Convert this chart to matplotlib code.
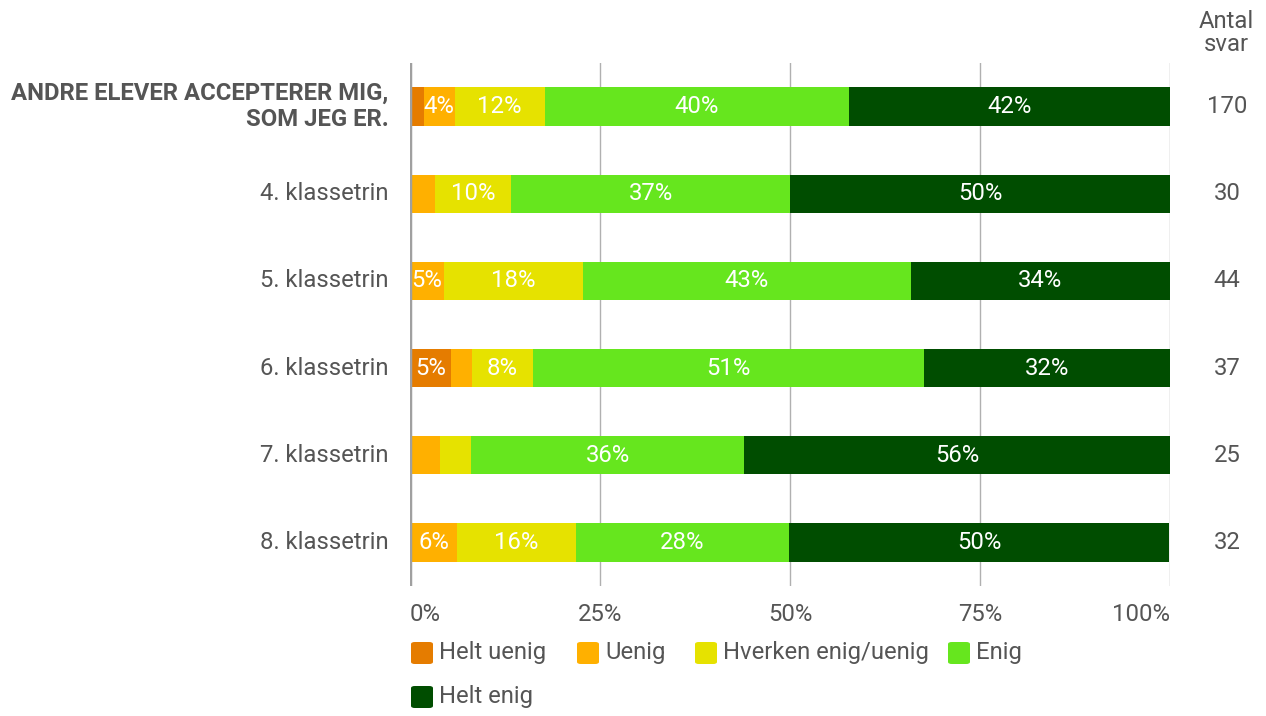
import matplotlib
matplotlib.use("Agg")
import math
import matplotlib.pyplot as plt
from matplotlib.patches import FancyBboxPatch

plt.rcParams['font.family'] = ['Roboto', 'DejaVu Sans']

categories = ["ANDRE ELEVER ACCEPTERER MIG,\nSOM JEG ER.", "4. klassetrin", "5. klassetrin",
              "6. klassetrin", "7. klassetrin", "8. klassetrin"]
series_names = ["Helt uenig", "Uenig", "Hverken enig/uenig", "Enig", "Helt enig"]
helt_uenig = [1.8, 0.0, 0.0, 5.4, 0.0, 0.0]
uenig = [4.1, 3.3, 4.5, 2.7, 4.0, 6.2]
hverken = [11.8, 10.0, 18.2, 8.1, 4.0, 15.6]
enig = [40.0, 36.7, 43.2, 51.4, 36.0, 28.1]
helt_enig = [42.4, 50.0, 34.1, 32.4, 56.0, 50.0]
antal_svar = [170, 30, 44, 37, 25, 32]
xticks = [0, 25, 50, 75, 100]
xtick_labels = ["0%", "25%", "50%", "75%", "100%"]

colors = ["#e57c00", "#ffb000", "#e6e200", "#66e61e", "#004d00"]
text_gray = "#555555"
FS = 17.2

W, H = 1266, 716
fig = plt.figure(figsize=(W / 100, H / 100), dpi=100)
ax = fig.add_axes([410 / W, (H - 586) / H, 760 / W, 523 / H])

series = [helt_uenig, uenig, hverken, enig, helt_enig]
ys = list(range(len(categories)))
left = [0.0] * len(categories)
for vals, col in zip(series, colors):
    ax.barh(ys, vals, left=left, height=0.44, color=col, zorder=3)
    for i, v in enumerate(vals):
        if v > 4.05:
            ax.text(left[i] + v / 2, ys[i], f"{int(math.floor(v + 0.5)):d}%", ha="center",
                    va="center", color="white", fontsize=FS, zorder=4)
    left = [l + v for l, v in zip(left, vals)]

ax.set_xlim(0, 100)
ax.set_ylim(len(categories) - 0.5, -0.5)
for x in xticks[1:]:
    ax.axvline(x, color="#b0b0b0", lw=1, zorder=1)
ax.axvline(0, color="#a0a0a0", lw=2.5, zorder=5)
for s in ax.spines.values():
    s.set_visible(False)
ax.set_xticks(xticks)
ax.set_xticklabels(xtick_labels, fontsize=FS, color=text_gray)
ax.tick_params(axis="x", length=0, pad=12)
tl = ax.get_xticklabels()
tl[0].set_ha("left")
tl[-1].set_ha("right")
ax.set_yticks([])

for i, cat in enumerate(categories):
    bold = i == 0
    ax.text(-0.028, ys[i], cat, transform=ax.get_yaxis_transform(), ha="right", va="center",
            fontsize=FS, color=text_gray, fontweight="bold" if bold else "normal",
            linespacing=1.2)
    ax.text(1.075, ys[i], str(antal_svar[i]), transform=ax.get_yaxis_transform(),
            ha="center", va="center", fontsize=FS, color=text_gray)

fig.text(1226 / W, 1 - 33 / H, "Antal\nsvar", ha="center", va="center", fontsize=FS,
         color=text_gray, linespacing=1.05)

# legend
leg_pos = [(410, 653), (576, 653), (694, 653), (947, 653), (410, 697)]
for (lx, ly), name, col in zip(leg_pos, series_names, colors):
    sq = FancyBboxPatch(((lx + 1) / W, (H - ly - 11) / H), 22 / W, 22 / H,
                        boxstyle="round,pad=0,rounding_size=0.003",
                        transform=fig.transFigure, facecolor=col, edgecolor="none")
    fig.add_artist(sq)
    fig.text((lx + 29) / W, (H - ly) / H, name, ha="left", va="center", fontsize=FS,
             color=text_gray)

fig.savefig("out.png", dpi=100)
